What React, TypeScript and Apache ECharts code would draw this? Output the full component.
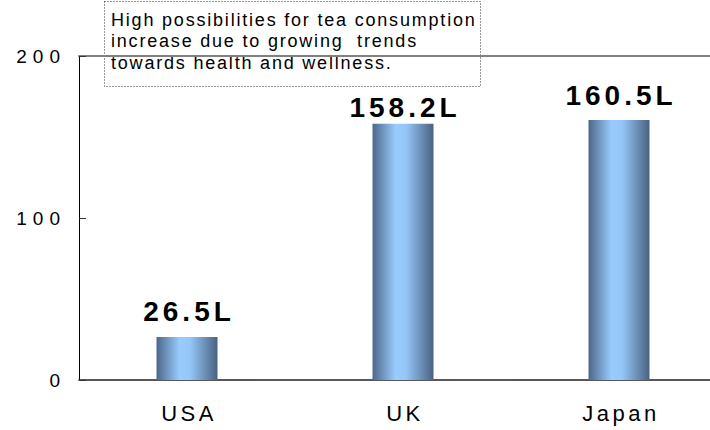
import React, { useEffect, useRef } from 'react';
import * as echarts from 'echarts';

const categories = ['USA', 'UK', 'Japan'];
const consumption = [26.5, 158.2, 160.5];
const labelGaps = [12, 2, 10];
const noteLines = [
  'High possibilities for tea consumption',
  'increase due to growing  trends',
  'towards health and wellness.',
];

const FONT = 'Arial, "Liberation Sans", sans-serif';

const css = `
.tea-chart text[style*="19px"] { letter-spacing: 6px; }
.tea-chart text[style*="22px"] { letter-spacing: 3.5px; }
.tea-chart text[style*="28px"] { letter-spacing: 4px; }
.tea-chart text[style*="18px"] { letter-spacing: 1.8px; }
`;

export default function App() {
  const ref = useRef<HTMLDivElement>(null);
  useEffect(() => {
    const chart = echarts.init(ref.current!, null, { renderer: 'svg' });
    const barGradient = new echarts.graphic.LinearGradient(0, 0, 1, 0, [
      { offset: 0, color: '#4d6789' },
      { offset: 0.38, color: '#99ccff' },
      { offset: 0.55, color: '#95c6f7' },
      { offset: 1, color: '#4a6283' },
    ]);
    chart.setOption({
      animation: false,
      grid: { left: 79, right: 13, top: 56, bottom: 50, containLabel: false },
      xAxis: [
        {
          type: 'category',
          data: categories,
          axisLine: { lineStyle: { color: '#222', width: 1.5 } },
          axisTick: { inside: true, length: 7, lineStyle: { color: '#555', width: 1.5 } },
          axisLabel: { color: '#000', fontSize: 22, fontFamily: FONT, margin: 22, padding: [0, 0, 0, 4] },
        },
        {
          type: 'category',
          position: 'top',
          data: categories,
          axisLine: { lineStyle: { color: '#808080', width: 2 } },
          axisTick: { show: false },
          axisLabel: { show: false },
        },
      ],
      yAxis: {
        type: 'value',
        min: 0,
        max: 200,
        interval: 100,
        axisLine: { show: true, lineStyle: { color: '#000', width: 1 } },
        axisTick: { show: true, inside: true, length: 7, lineStyle: { color: '#333' } },
        splitLine: { show: false },
        axisLabel: { color: '#000', fontSize: 19, fontFamily: FONT, margin: 13 },
      },
      series: [
        {
          type: 'bar',
          barWidth: 61,
          data: consumption.map((v, i) => ({ value: v, label: { distance: labelGaps[i] } })),
          itemStyle: { color: barGradient },
          label: {
            show: true,
            position: 'top',
            formatter: (p: any) => p.value + 'L',
            fontSize: 28,
            fontWeight: 'bold',
            color: '#000',
            fontFamily: FONT,
            padding: [0, 0, 0, 4],
          },
        },
      ],
      graphic: [
        {
          type: 'group',
          z: 100,
          children: [
            {
              type: 'rect',
              shape: { x: 104.5, y: 1.5, width: 376, height: 85 },
              style: { fill: '#fff', stroke: '#333', lineWidth: 1, lineDash: [1, 2] },
            },
            {
              type: 'text',
              x: 111,
              y: 9,
              style: {
                text: noteLines.join('\n'),
                fontSize: 18,
                fontFamily: FONT,
                fill: '#000',
                lineHeight: 21.5,
              },
            },
          ],
        },
      ],
    });
    return () => chart.dispose();
  }, []);
  return (
    <>
      <style>{css}</style>
      <div
        ref={ref}
        className="tea-chart"
        style={{ position: 'fixed', left: 0, top: 0, width: 740, height: 430, background: '#fff' }}
      />
    </>
  );
}
